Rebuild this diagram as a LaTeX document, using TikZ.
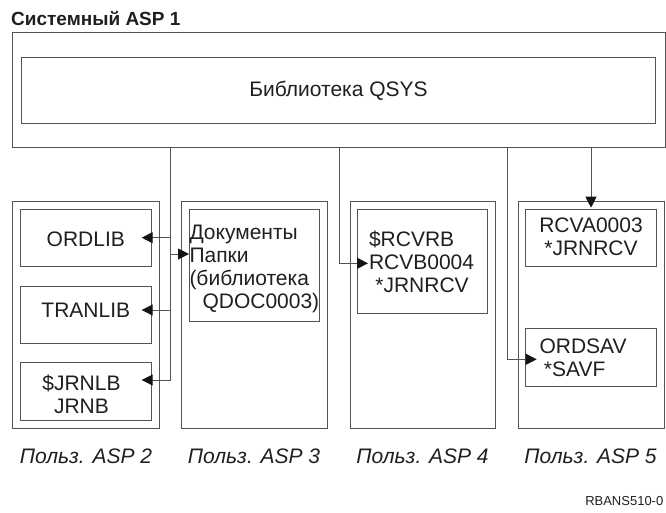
\documentclass[tikz,border=0pt]{standalone}
\usepackage{fontspec}
\setmainfont{Liberation Sans}
\usetikzlibrary{arrows.meta,calc}
\definecolor{ln}{gray}{0.33}
\definecolor{txt}{gray}{0.12}
\definecolor{tipc}{gray}{0.08}
\newcommand\fsz{\fontsize{21}{23}\selectfont}
\begin{document}
\begin{tikzpicture}[x=1pt,y=-1pt,
  boxnode/.style={draw=ln,line width=1pt,inner sep=0pt,outer sep=0pt,rectangle,text=txt,font=\fsz},
  lbl/.style={inner sep=0pt,outer sep=0pt,text=txt,font=\fsz},
  asplbl/.style={inner sep=0pt,outer sep=0pt,text=txt,font=\itshape\fsz,anchor=base},
  conn/.style={draw=ln,line width=1pt},
  arr/.style={-{Triangle[length=11pt,width=11pt,color=tipc]}}
]
\useasboundingbox (0,0) rectangle (666,512);

% title
\node[anchor=base west,inner sep=0pt,text=txt,font=\bfseries\fontsize{19}{22}\selectfont] (title) at (11,25.7) {Системный ASP 1};

% system ASP
\node[boxnode,minimum width=652.7pt,minimum height=115.4pt] (outer) at (338.65,90) {};
\node[boxnode,minimum width=633.6pt,minimum height=65.6pt] (qsys) at (338.5,90.5) {Библиотека QSYS};

% user ASP boxes
\node[boxnode,minimum width=146.7pt,minimum height=226.5pt] (asp2) at (85.65,314.75) {};
\node[boxnode,minimum width=146pt,minimum height=226.5pt] (asp3) at (254,314.75) {};
\node[boxnode,minimum width=145.7pt,minimum height=226.5pt] (asp4) at (422.85,314.75) {};
\node[boxnode,minimum width=145.7pt,minimum height=226.5pt] (asp5) at (591.15,314.75) {};

% inner boxes
\node[boxnode,minimum width=130.3pt,minimum height=57pt] (ordlib) at (85.85,237.5) {};
\node[boxnode,minimum width=130.3pt,minimum height=56.3pt] (tranlib) at (85.85,314.85) {};
\node[boxnode,minimum width=130.3pt,minimum height=57.3pt] (jrnlb) at (85.85,391.35) {};
\node[boxnode,minimum width=130pt,minimum height=112pt] (docs) at (254,265) {};
\node[boxnode,minimum width=130.4pt,minimum height=104.3pt] (rcvb) at (422.5,261.15) {};
\node[boxnode,minimum width=131pt,minimum height=57pt] (rcva) at (591.2,237.5) {};
\node[boxnode,minimum width=131pt,minimum height=57.7pt] (ordsav) at (591.2,357.15) {};

% texts
\node[lbl,anchor=base] (tordlib) at (85.8,246.7) {ORDLIB};
\node[lbl,anchor=base] (ttranlib) at (85.8,317.3) {TRANLIB};
\node[lbl,anchor=north,align=center] (tjrnlb) at (81.5,374.6) {\strut\$JRNLB\\JRNB};
\node[lbl,anchor=north west,align=left] (tdocs) at (189.5,223.2) {\strut Документы\\Папки\\(библиотека\\\hspace*{13pt}QDOC0003)};
\node[lbl,anchor=north west,align=left] (trcvb) at (369,229.9) {\strut\$RCVRB\\RCVB0004\\\hspace*{6.4pt}*JRNRCV};
\node[lbl,anchor=north,align=center] (trcva) at (591,216.6) {\strut RCVA0003\\*JRNRCV};
\node[lbl,anchor=north west,align=left] (tordsav) at (539.5,337.2) {\strut ORDSAV\\\hspace*{4.4pt}*SAVF};

% ASP labels
\node[asplbl] (l2) at (86,463.3) {Польз. ASP 2};
\node[asplbl] (l3) at (254,463.3) {Польз. ASP 3};
\node[asplbl] (l4) at (422.5,463.3) {Польз. ASP 4};
\node[asplbl] (l5) at (590.5,463.3) {Польз. ASP 5};

\node[anchor=base east,inner sep=0pt,text=txt,font=\fontsize{13}{15}\selectfont] (code) at (663.5,505) {RBANS510-0};

% connector coordinates
\coordinate (xa) at (170,0);
\coordinate (xb) at (339,0);
\coordinate (xc) at (507.7,0);
\coordinate (xd) at (591,0);
\coordinate (jA1) at (170,237.7);
\coordinate (jA2) at (170,254);
\coordinate (jA3) at (170,310);
\coordinate (jA4) at (170,380);
\coordinate (pOrd) at ([xshift=-9.3pt]ordlib.east);
\coordinate (pTran) at ([xshift=-9.3pt]tranlib.east);
\coordinate (pJrn) at ([xshift=-9.3pt]jrnlb.east);
\coordinate (pRcvb) at (368,263.3);
\coordinate (pOrdsav) at (536.7,359.3);
\coordinate (pRcva) at (591,207.7);

% connectors
\draw[conn,arr] (outer.south -| xa) -- (jA4) -- (jA4 -| pJrn);
\draw[conn,arr] (jA1) -- (jA1 -| pOrd);
\draw[conn,arr] (jA2) -- (jA2 -| docs.west);
\draw[conn,arr] (jA3) -- (jA3 -| pTran);
\draw[conn,arr] (outer.south -| xb) |- (pRcvb);
\draw[conn,arr] (outer.south -| xc) |- (pOrdsav);
\draw[conn,arr] (outer.south -| xd) -- (pRcva);
\end{tikzpicture}
\end{document}
